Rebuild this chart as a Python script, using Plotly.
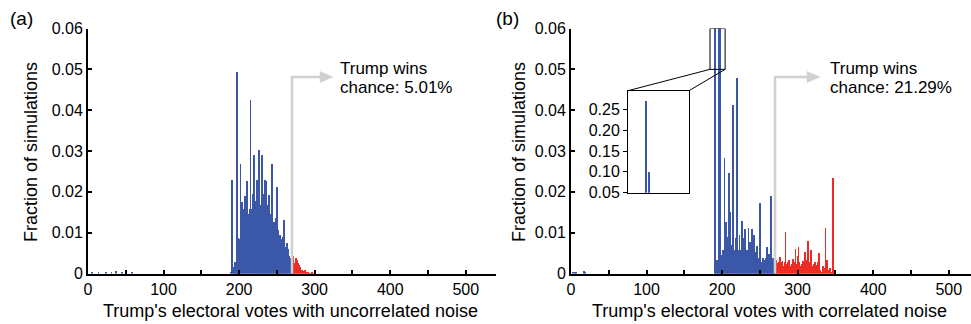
import plotly.graph_objects as go

# ---------------- data ----------------
# (a) uncorrelated noise
a_blue_votes = [5, 14, 24, 31, 37, 45, 58] + list(range(188, 270))
a_blue_frac = [0.0006, 0.0005, 0.0004, 0.0003, 0.0008, 0.0005, 0.0004,
               0.0, 0.0005, 0.0010, 0.0229, 0.0012, 0.0018, 0.0020, 0.0030, 0.0030, 0.0495,
               0.0026, 0.0089, 0.0060, 0.0085, 0.0270, 0.0120, 0.0177, 0.0110, 0.0160, 0.0125,
               0.0192, 0.0140, 0.0227, 0.0130, 0.0148, 0.0120, 0.0160, 0.0425, 0.0160, 0.0140,
               0.0197, 0.0150, 0.0292, 0.0150, 0.0179, 0.0160, 0.0230, 0.0170, 0.0304, 0.0152,
               0.0170, 0.0160, 0.0292, 0.0150, 0.0197, 0.0150, 0.0230, 0.0160, 0.0227, 0.0140,
               0.0169, 0.0130, 0.0194, 0.0148, 0.0120, 0.0150, 0.0269, 0.0110, 0.0128, 0.0100,
               0.0136, 0.0120, 0.0214, 0.0095, 0.0107, 0.0080, 0.0095, 0.0065, 0.0072, 0.0085,
               0.0090, 0.0132, 0.0060, 0.0066, 0.0065, 0.0075, 0.0055, 0.0062, 0.0045, 0.0038,
               0.0040, 0.0035]
a_red_votes = list(range(270, 299))
a_red_frac = [0.0030, 0.0045, 0.0039, 0.0025, 0.0028, 0.0039, 0.0030, 0.0034, 0.0028, 0.0021,
              0.0019, 0.0016, 0.0009, 0.0010, 0.0007, 0.0006, 0.0007, 0.0011, 0.0004, 0.0003,
              0.0003, 0.0003, 0.0006, 0.0002, 0.0002, 0.0001, 0.0004, 0.0003, 0.0001]

# (b) correlated noise
b_blue_votes = [3, 5, 7, 17, 19] + list(range(190, 270))
b_blue_frac = [0.0004, 0.0006, 0.0003, 0.0008, 0.0006,
               0.27, 0.10, 0.0020, 0.0034, 0.0030, 0.0015, 0.066, 0.0040, 0.063, 0.0047,
               0.0030, 0.0060, 0.0050, 0.0285, 0.0060, 0.0128, 0.0070, 0.0090, 0.0060, 0.0248,
               0.0080, 0.0152, 0.0060, 0.0070, 0.0415, 0.0050, 0.0038, 0.0060, 0.0087, 0.0050,
               0.0479, 0.0060, 0.0040, 0.0096, 0.0050, 0.0060, 0.0130, 0.0050, 0.0087, 0.0045,
               0.0110, 0.0040, 0.0035, 0.0060, 0.0040, 0.0113, 0.0045, 0.0079, 0.0040, 0.0060,
               0.0111, 0.0040, 0.0095, 0.0035, 0.0054, 0.0030, 0.0069, 0.0035, 0.0030, 0.0040,
               0.0175, 0.0030, 0.0030, 0.0025, 0.0040, 0.0030, 0.0035, 0.0030, 0.0040, 0.0066,
               0.0035, 0.0030, 0.0050, 0.0035, 0.0040, 0.0190, 0.0030, 0.0038, 0.0034, 0.0040]
b_red_votes = list(range(270, 349))
b_red_frac = [0.0020, 0.0034, 0.0034, 0.0025, 0.0028, 0.0030, 0.0020, 0.0042, 0.0030, 0.0025,
              0.0031, 0.0015, 0.0020, 0.0030, 0.0102, 0.0025, 0.0020, 0.0030, 0.0025, 0.0034,
              0.0020, 0.0015, 0.0025, 0.0020, 0.0036, 0.0020, 0.0030, 0.0062, 0.0025, 0.0020,
              0.0045, 0.0066, 0.0030, 0.0020, 0.0015, 0.0025, 0.0020, 0.0031, 0.0015, 0.0025,
              0.0054, 0.0020, 0.0035, 0.0030, 0.0081, 0.0025, 0.0030, 0.0040, 0.0058, 0.0020,
              0.0015, 0.0017, 0.0025, 0.0030, 0.0015, 0.0023, 0.0020, 0.0030, 0.0052, 0.0020,
              0.0010, 0.0005, 0.0003, 0.0010, 0.0020, 0.0010, 0.0015, 0.0113, 0.0020, 0.0034,
              0.0010, 0.0005, 0.0008, 0.0015, 0.0005, 0.0003, 0.0008, 0.0234, 0.0003]

# inset (zoom of the clipped peaks in b)
inset_votes = [190, 191]
inset_frac = [0.27, 0.10]

y_tickvals = [0, 0.01, 0.02, 0.03, 0.04, 0.05, 0.06]
y_ticktext = ["0", "0.01", "0.02", "0.03", "0.04", "0.05", "0.06"]
x_tickvals = [0, 100, 200, 300, 400, 500]
inset_tickvals = [0.05, 0.10, 0.15, 0.20, 0.25]
inset_ticktext = ["0.05", "0.10", "0.15", "0.20", "0.25"]

win_label = "Trump wins"
a_chance = "chance: 5.01%"
b_chance = "chance: 21.29%"
xtitle_a = "Trump's electoral votes with uncorrelated noise"
xtitle_b = "Trump's electoral votes with correlated noise"
ytitle = "Fraction of simulations"
threshold = 270

# ---------------- style ----------------
W, H = 971, 324
BLUE = "#3b57a7"
RED = "#ee2c24"
GRAY = "#d0d0d0"
FONT = "Liberation Sans, Arial, Helvetica, sans-serif"
Y0, Y6 = 273.5, 28.5          # pixel rows of y=0 and y=0.06
LX0, LX1 = 88, 496            # left panel x pixels for 0 and 540
RX0 = 571                     # right panel x pixel for 0
PPV = (LX1 - LX0) / 540.0     # pixels per vote


def px(x):
    return x / W


def py(y):
    return 1 - y / H


fig = go.Figure()

def add_bars(x, y, color, xa, ya, width=1.0):
    fig.add_trace(go.Bar(x=x, y=y, width=width, marker=dict(color=color, line=dict(width=0)),
                         xaxis=xa, yaxis=ya, showlegend=False, hoverinfo="x+y"))

add_bars(a_blue_votes, a_blue_frac, BLUE, "x", "y")
add_bars(a_red_votes, a_red_frac, RED, "x", "y")
add_bars(b_blue_votes, b_blue_frac, BLUE, "x2", "y2")
add_bars(b_red_votes, b_red_frac, RED, "x2", "y2")
add_bars(inset_votes, inset_frac, BLUE, "x3", "y3", width=0.5)

y_dom = [py(Y0), py(Y6)]
TF = dict(family=FONT, size=16, color="black")
xa_common = dict(showgrid=False, zeroline=False, showline=True, linecolor="black", linewidth=2,
                 ticks="inside", ticklen=4, tickwidth=1.5, tickcolor="black", automargin=False,
                 tickvals=x_tickvals, tickfont=TF,
                 minor=dict(ticks="inside", dtick=50, ticklen=4, tickwidth=1.5, tickcolor="black"))
ya_common = dict(showgrid=False, zeroline=False, showline=True, linecolor="black", linewidth=2,
                 ticks="inside", ticklen=4, tickwidth=1.5, tickcolor="black", automargin=False,
                 tickvals=y_tickvals, ticktext=y_ticktext, range=[0, 0.06],
                 tickfont=TF, domain=y_dom)

right_span = (W - RX0) / PPV
fig.update_layout(
    width=W, height=H, margin=dict(l=0, r=0, t=0, b=0, pad=0), autosize=False,
    paper_bgcolor="white", plot_bgcolor="rgba(0,0,0,0)",
    bargap=0, barmode="overlay",
    font=dict(family=FONT, size=16, color="black"),
    xaxis=dict(xa_common, domain=[px(LX0), px(LX1)], range=[0, 540], anchor="y"),
    yaxis=dict(ya_common, anchor="x"),
    xaxis2=dict(xa_common, domain=[px(RX0), 1.0], range=[0, right_span], anchor="y2"),
    yaxis2=dict(ya_common, anchor="x2"),
    xaxis3=dict(domain=[px(628), px(689)], range=[184, 204], anchor="y3", showgrid=False,
                zeroline=False, showline=True, mirror=True, linecolor="black", linewidth=1,
                showticklabels=False, ticks="", automargin=False),
    yaxis3=dict(domain=[py(192.7), py(90.7)], range=[0.05, 0.295], anchor="x3", showgrid=False,
                zeroline=False, showline=True, mirror=True, linecolor="black", linewidth=1,
                ticks="outside", ticklen=4, tickcolor="black", tickvals=inset_tickvals,
                ticktext=inset_ticktext, tickfont=TF, automargin=False),
)

shapes = []
shapes.append(dict(type="rect", xref="paper", yref="paper", x0=px(628), x1=px(689),
                   y0=py(192.7), y1=py(90.7), fillcolor="white", line=dict(width=0), layer="below"))
shapes.append(dict(type="rect", xref="x2", yref="y2", x0=184, x1=204, y0=0.05, y1=0.06,
                   line=dict(color="black", width=1)))
box_bottom = Y0 - 0.05 / 0.06 * (Y0 - Y6)
shapes.append(dict(type="line", xref="paper", yref="paper", x0=px(RX0 + 184 * PPV), y0=py(box_bottom),
                   x1=px(628), y1=py(90.7), line=dict(color="black", width=1)))
shapes.append(dict(type="line", xref="paper", yref="paper", x0=px(RX0 + 204 * PPV), y0=py(box_bottom),
                   x1=px(689), y1=py(90.7), line=dict(color="black", width=1)))

# "Trump wins" arrows (pixel geometry): vertical at threshold, then right to a head
ARROW_Y = 77
for x0, tip in ((LX0, 333), (RX0, 820)):
    xv = x0 + threshold * PPV
    shapes.append(dict(type="path", xref="paper", yref="paper",
                       path=f"M {px(xv)},{py(Y0)} L {px(xv)},{py(ARROW_Y)} L {px(tip-11)},{py(ARROW_Y)}",
                       line=dict(color=GRAY, width=2.5)))
    shapes.append(dict(type="path", xref="paper", yref="paper",
                       path=(f"M {px(tip-13)},{py(ARROW_Y-5.5)} L {px(tip)},{py(ARROW_Y)} "
                             f"L {px(tip-13)},{py(ARROW_Y+5.5)} Z"),
                       fillcolor=GRAY, line=dict(color=GRAY, width=0.5)))
fig.update_layout(shapes=shapes)

ann = []
for tx, chance in ((338, a_chance), (828, b_chance)):
    ann.append(dict(xref="paper", yref="paper", x=px(tx), y=py(68), text=win_label, showarrow=False,
                    xanchor="left", yanchor="middle", align="left", font=dict(size=17)))
    ann.append(dict(xref="paper", yref="paper", x=px(tx), y=py(87.5), text=chance, showarrow=False,
                    xanchor="left", yanchor="middle", align="left", font=dict(size=17)))
ann.append(dict(xref="paper", yref="paper", x=px(290), y=py(311), text=xtitle_a, showarrow=False,
                xanchor="center", yanchor="middle", font=dict(size=18)))
ann.append(dict(xref="paper", yref="paper", x=px(769), y=py(311), text=xtitle_b, showarrow=False,
                xanchor="center", yanchor="middle", font=dict(size=18)))
ann.append(dict(xref="paper", yref="paper", x=px(31), y=py(152), text=ytitle, showarrow=False,
                textangle=-90, xanchor="center", yanchor="middle", font=dict(size=18)))
ann.append(dict(xref="paper", yref="paper", x=px(519), y=py(152), text=ytitle, showarrow=False,
                textangle=-90, xanchor="center", yanchor="middle", font=dict(size=18)))
ann.append(dict(xref="paper", yref="paper", x=px(8), y=py(18), text="(a)", showarrow=False,
                xanchor="left", yanchor="middle", font=dict(size=19)))
ann.append(dict(xref="paper", yref="paper", x=px(494), y=py(18), text="(b)", showarrow=False,
                xanchor="left", yanchor="middle", font=dict(size=19)))
fig.update_layout(annotations=ann)

fig.write_html("out.html", config={"displayModeBar": False},
               post_script="document.body.style.margin='0px';document.body.style.overflow='hidden';")
